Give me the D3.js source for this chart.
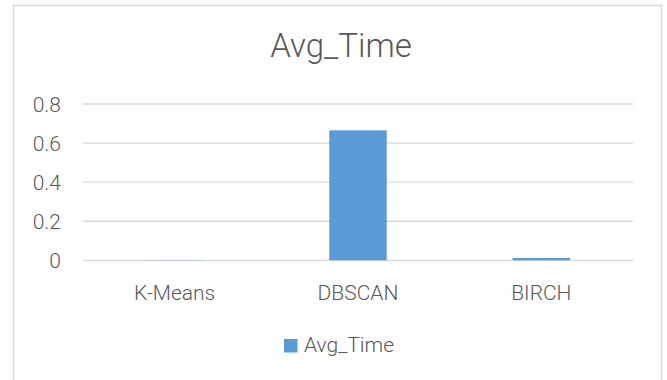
<!DOCTYPE html>
<html>
<head>
<meta charset="utf-8">
<script src="https://cdn.jsdelivr.net/npm/d3@7"></script>
<style>
  html, body { margin: 0; padding: 0; background: #fff; }
  svg { display: block; }
  text { font-family: Roboto, "Open Sans", sans-serif; font-weight: 300; fill: #595959; }
</style>
</head>
<body>
<svg id="chart" width="667" height="380"></svg>
<script>
const title = "Avg_Time";
const seriesName = "Avg_Time";
const categories = ["K-Means", "DBSCAN", "BIRCH"];
const values = [0.001, 0.665, 0.012];
const yTicks = [0, 0.2, 0.4, 0.6, 0.8];
const yTickLabels = ["0", "0.2", "0.4", "0.6", "0.8"];

const W = 667, H = 380;
const plot = { left: 83, right: 633, top: 104, bottom: 260.3 };
const svg = d3.select("#chart");

// chart border
svg.append("rect")
  .attr("x", 13.5).attr("y", 5.5)
  .attr("width", 648).attr("height", 400)
  .attr("fill", "#fff").attr("stroke", "#D9D9D9").attr("stroke-width", 1.5);

const x = d3.scaleBand().domain(categories).range([plot.left, plot.right]).paddingInner(0).paddingOuter(0);
const y = d3.scaleLinear().domain([0, 0.8]).range([plot.bottom, plot.top]);

// gridlines
svg.append("g").selectAll("line").data(yTicks).join("line")
  .attr("x1", plot.left).attr("x2", plot.right)
  .attr("y1", d => y(d)).attr("y2", d => y(d))
  .attr("stroke", "#D9D9D9").attr("stroke-width", 1.3);

// y tick labels
svg.append("g").selectAll("text").data(yTicks).join("text")
  .attr("x", 61).attr("y", d => y(d))
  .attr("dy", "0.36em")
  .attr("text-anchor", "end")
  .style("font-size", "21px")
  .text((d, i) => yTickLabels[i]);

// bars
const barW = x.bandwidth() / 3.19;
svg.append("g").selectAll("rect").data(categories).join("rect")
  .attr("x", d => x(d) + (x.bandwidth() - barW) / 2)
  .attr("width", barW)
  .attr("y", (d, i) => y(values[i]))
  .attr("height", (d, i) => y(0) - y(values[i]))
  .attr("fill", "#5B9BD5");

// x labels
svg.append("g").selectAll("text").data(categories).join("text")
  .attr("x", d => x(d) + x.bandwidth() / 2)
  .attr("y", 300)
  .attr("text-anchor", "middle")
  .style("font-size", "21px")
  .text(d => d);

// title
svg.append("text")
  .attr("x", 341).attr("y", 57.3)
  .attr("text-anchor", "middle")
  .style("font-size", "33px")
  .text(title);

// legend
const lg = svg.append("g");
lg.append("rect").attr("x", 284).attr("y", 339).attr("width", 13.5).attr("height", 13.5).attr("fill", "#5B9BD5");
lg.append("text").attr("x", 304).attr("y", 352.3)
  .style("font-size", "21px").text(seriesName);
</script>
</body>
</html>
